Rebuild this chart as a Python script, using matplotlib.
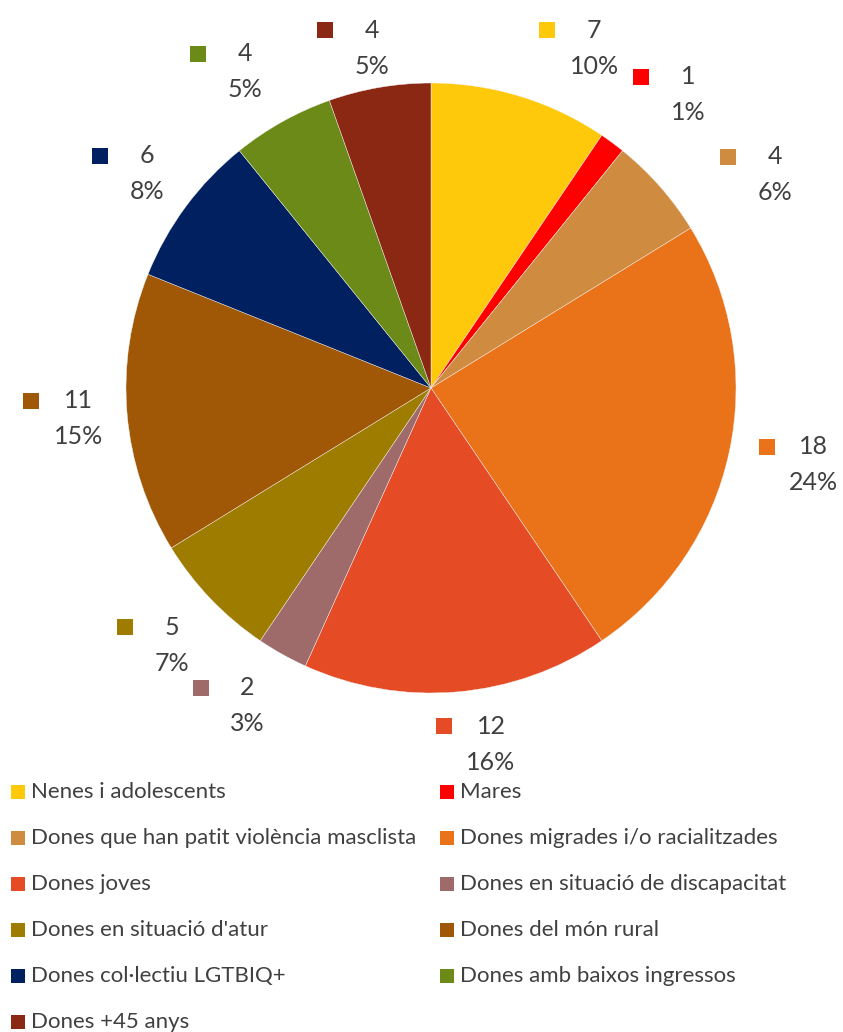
import matplotlib
matplotlib.use('Agg')
import matplotlib.pyplot as plt
import numpy as np
from matplotlib.patches import Rectangle

plt.rcParams['font.family'] = ['Lato', 'DejaVu Sans']

# data
categories = [
    'Nenes i adolescents', 'Mares', 'Dones que han patit violència masclista',
    'Dones migrades i/o racialitzades', 'Dones joves',
    'Dones en situació de discapacitat', "Dones en situació d'atur",
    'Dones del món rural', 'Dones col·lectiu LGTBIQ+',
    'Dones amb baixos ingressos', 'Dones +45 anys',
]
counts = [7, 1, 4, 18, 12, 2, 5, 11, 6, 4, 4]
pct_labels = ['10%', '1%', '6%', '24%', '16%', '3%', '7%', '15%', '8%', '5%', '5%']
colors = ['#FFC90B', '#FF0000', '#CF8C40', '#EA7319', '#E54B24', '#9E6B6A',
          '#9E7C00', '#A05806', '#002060', '#6C8A17', '#8B2814']

# label placement tweaks (deg shift from mid-angle, distance in radii)
label_shift = [8.6, 4.8, 9.6, -0.8, -4.7, 0.8, -1.0, -0.1, 0.5, -1.3, -0.1]
label_dist = [1.236, 1.279, 1.328, 1.28, 1.184, 1.203, 1.197, 1.161, 1.167, 1.203, 1.131]

W, H = 843, 1032
fig = plt.figure(figsize=(W / 100, H / 100), dpi=100)
ax = fig.add_axes([0, 0, 1, 1])

R = 305
cx, cy = 431, H - 388
ax.pie(counts, colors=colors, startangle=90, counterclock=False,
       radius=R, center=(cx, cy),
       wedgeprops=dict(linewidth=0.3, edgecolor='#f4f4f4'))
ax.set_xlim(0, W)
ax.set_ylim(0, H)
ax.set_aspect('equal')
ax.axis('off')

txt_color = '#404040'
total = sum(counts)
cum = np.cumsum([0] + counts)
for i, n in enumerate(counts):
    mid = (cum[i] + n / 2) / total * 360 + label_shift[i]
    r = R * label_dist[i]
    lx = cx + r * np.sin(np.radians(mid))
    ly = cy + r * np.cos(np.radians(mid))
    ax.text(lx, ly + 18, str(n), ha='center', va='center', fontsize=18, color=txt_color)
    ax.text(lx, ly - 18, pct_labels[i], ha='center', va='center', fontsize=18, color=txt_color)
    ax.add_patch(Rectangle((lx - 47 - 8, ly + 18 - 8), 16, 16,
                           facecolor=colors[i], edgecolor='none'))

# legend, filled row by row in two columns
for i, name in enumerate(categories):
    row, col = divmod(i, 2)
    x0 = 11 + col * 429
    y0 = H - (792 + row * 46)
    ax.add_patch(Rectangle((x0, y0 - 7), 14, 14, facecolor=colors[i], edgecolor='none'))
    ax.text(x0 + 20, y0, name, ha='left', va='center', fontsize=16, color=txt_color)

fig.savefig('out.png', dpi=100)
